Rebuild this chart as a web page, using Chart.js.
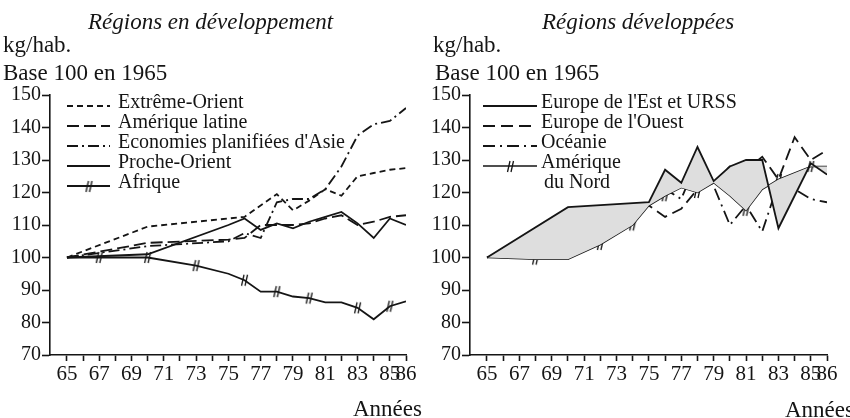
<!DOCTYPE html>
<html>
<head>
<meta charset="utf-8">
<script src="https://cdn.jsdelivr.net/npm/chart.js@4.4.1/dist/chart.umd.min.js"></script>
<style>
  body { margin: 0; background: #fff; }
  #wrap { position: relative; width: 850px; height: 418px; font-family: "Liberation Serif", serif; color: #151515; }
  .box { position: absolute; top: 0; width: 425px; height: 418px; }
  .txt { position: absolute; white-space: nowrap; line-height: 1; }
  .title { font-style: italic; font-size: 23px; }
  .head { font-size: 23px; }
</style>
</head>
<body>
<div id="wrap">
  <div class="box" style="left:0"><canvas id="dev" width="425" height="418"></canvas></div>
  <div class="box" style="left:425px"><canvas id="devd" width="425" height="418"></canvas></div>

  <div class="txt title" style="left:88px;top:10px">Régions en développement</div>
  <div class="txt head" style="left:3px;top:33px">kg/hab.</div>
  <div class="txt head" style="left:3px;top:61px">Base 100 en 1965</div>
  <div class="txt head" style="left:353px;top:397px">Années</div>

  <div class="txt title" style="left:542px;top:10px">Régions développées</div>
  <div class="txt head" style="left:433px;top:33px">kg/hab.</div>
  <div class="txt head" style="left:435px;top:61px">Base 100 en 1965</div>
  <div class="txt head" style="left:785px;top:398px">Années</div>
</div>

<script>
"use strict";

const ink = "#151515";

const years = [65, 66, 67, 68, 69, 70, 71, 72, 73, 74, 75, 76, 77, 78, 79, 80, 81, 82, 83, 84, 85, 86];
const labelledYears = [65, 67, 69, 71, 73, 75, 77, 79, 81, 83, 85, 86];
const yTicks = [70, 80, 90, 100, 110, 120, 130, 140, 150];

// Régions en développement
const extremeOrient = [100, null, null, null, null, 109.5, null, null, null, null, 112, 112.5, null, 119.5, 114.5, 117.5, 121, 119, 125, 126, 127, 127.5];
const ameriqueLatine = [100, null, null, null, null, 104.5, null, null, null, null, 105.5, 106, 110, 110, 110, 110.5, 112, 113, 110, 111, 112.5, 113];
const asiePlanifiee = [100, null, null, null, null, 103.5, null, null, null, null, 105, 107.5, 106, 117, 118, 118, 121, 128, 137.5, 141, 142, 146];
const procheOrient = [100, null, null, null, null, 101, null, null, null, null, 110, 112, 108.5, 110.5, 109, 111, 112.5, 114, 110.5, 106, 112, 110];
const afrique = [100, null, 100, null, null, 100, null, null, 97.5, null, 95, 93, 89.5, 89.5, 88, 87.5, 86.2, 86.2, 84.5, 81, 85, 86.5];
const afriqueMarks = [67, 70, 73, 76, 78, 80, 83, 85];

// Régions développées
const europeEst = [100, null, null, null, null, 115.5, null, null, null, null, 117, 127, 123, 134, 123.5, 128, 130, 130, 109, 119, 129, 125.5];
const europeOuest = [100, null, null, null, null, 107.5, null, null, null, null, 116, 112.5, 115, 121, 123, 128, 127, 131, 124, 137, 130, 133];
const oceanie = [100, null, null, null, null, 106.5, null, null, null, null, 116, 121, 118, 130, 122, 110, 116, 108, 123, 121, 118, 117];
const ameriqueNord = [100, null, null, 99.5, null, 99.5, null, 104, null, 110, 116, 119, 121.5, 120, 123, 119, 114.5, 121, 124, 126, 128, 128];
const ameriqueNordMarks = [68, 72, 74, 76, 78, 81, 83, 85];

// little double-slash tick used on two of the lines
const marker = document.createElement("canvas");
marker.width = 9;
marker.height = 13;
(function () {
  const c = marker.getContext("2d");
  c.strokeStyle = ink;
  c.lineWidth = 1.3;
  c.beginPath();
  c.moveTo(1.5, 12); c.lineTo(4, 1);
  c.moveTo(5, 12); c.lineTo(7.5, 1);
  c.stroke();
})();

function markRadius(marks) {
  return years.map(y => (marks.includes(y) ? 4 : 0));
}

function lineSet(label, values, dash, extra) {
  return Object.assign({
    label: label,
    data: values,
    borderColor: ink,
    borderWidth: 1.8,
    borderDash: dash,
    pointRadius: 0,
    fill: false,
    spanGaps: true,
    tension: 0,
  }, extra || {});
}

const legendPlugin = {
  id: "sketchLegend",
  afterDraw(chart, args, opts) {
    const ctx = chart.ctx;
    ctx.save();
    ctx.font = opts.font;
    ctx.fillStyle = ink;
    ctx.textBaseline = "middle";
    let row = 0;
    opts.items.forEach(item => {
      const ds = chart.data.datasets[item.index];
      const y = opts.y + row * opts.step;
      ctx.strokeStyle = ink;
      ctx.lineWidth = ds.borderWidth;
      ctx.setLineDash(ds.borderDash || []);
      ctx.beginPath();
      ctx.moveTo(opts.x, y + 3);
      ctx.lineTo(opts.x + opts.w, y + 3);
      ctx.stroke();
      ctx.setLineDash([]);
      if (ds.pointStyle === marker) {
        ctx.drawImage(marker, opts.x + opts.w / 2 - 4, y + 3 - 6);
      }
      item.text.forEach((t, k) => {
        ctx.fillText(t, opts.x + opts.w + opts.gap + (k ? 3 : 0), y + k * opts.step);
      });
      row += item.text.length;
    });
    ctx.restore();
  }
};

function makeOptions(pad, legend) {
  return {
    responsive: false,
    animation: false,
    events: [],
    layout: { padding: pad },
    plugins: {
      legend: { display: false },
      tooltip: { enabled: false },
      sketchLegend: legend,
    },
    scales: {
      x: {
        type: "linear",
        min: 63.95,
        max: 86,
        afterBuildTicks: scale => { scale.ticks = years.map(v => ({ value: v })); },
        afterFit: scale => { scale.height = 63; },
        border: { display: true, color: ink, width: 1.6 },
        grid: { drawOnChartArea: false, drawTicks: true, tickLength: 6, tickColor: ink, tickWidth: 1.6 },
        ticks: {
          autoSkip: false,
          maxRotation: 0,
          padding: 1,
          color: ink,
          font: { family: "Liberation Serif", size: 21 },
          callback: v => (labelledYears.includes(v) ? String(v) : ""),
        },
      },
      y: {
        min: 70,
        max: 150,
        afterBuildTicks: scale => { scale.ticks = yTicks.map(v => ({ value: v })); },
        afterFit: scale => { scale.width = pad.yAxis; },
        border: { display: true, color: ink, width: 1.6 },
        grid: { drawOnChartArea: false, drawTicks: true, tickLength: 8, tickColor: ink, tickWidth: 1.6 },
        ticks: {
          padding: 1,
          color: ink,
          font: { family: "Liberation Serif", size: 20 },
        },
      },
    },
  };
}

function renderDeveloping() {
  const opts = makeOptions({ left: 0, right: 19, top: 95, bottom: 0, yAxis: 50 }, {
    x: 67, y: 103, w: 43, gap: 8, step: 20,
    font: '20px "Liberation Serif"',
    items: [
      { index: 0, text: ["Extrême-Orient"] },
      { index: 1, text: ["Amérique latine"] },
      { index: 2, text: ["Economies planifiées d'Asie"] },
      { index: 3, text: ["Proche-Orient"] },
      { index: 4, text: ["Afrique"] },
    ],
  });
  new Chart(document.getElementById("dev"), {
    type: "line",
    data: {
      labels: years,
      datasets: [
        lineSet("Extrême-Orient", extremeOrient, [6, 4]),
        lineSet("Amérique latine", ameriqueLatine, [12, 5]),
        lineSet("Economies planifiées d'Asie", asiePlanifiee, [11, 4, 2, 4]),
        lineSet("Proche-Orient", procheOrient, []),
        lineSet("Afrique", afrique, [], { pointStyle: marker, pointRadius: markRadius(afriqueMarks) }),
      ],
    },
    options: opts,
    plugins: [legendPlugin],
  });
}

function renderDeveloped() {
  const opts = makeOptions({ left: 0, right: 23, top: 95, bottom: 0, yAxis: 45 }, {
    x: 58, y: 103, w: 54, gap: 4, step: 20,
    font: '20px "Liberation Serif"',
    items: [
      { index: 0, text: ["Europe de l'Est et URSS"] },
      { index: 1, text: ["Europe de l'Ouest"] },
      { index: 2, text: ["Océanie"] },
      { index: 3, text: ["Amérique", "du Nord"] },
    ],
  });
  new Chart(document.getElementById("devd"), {
    type: "line",
    data: {
      labels: years,
      datasets: [
        lineSet("Europe de l'Est et URSS", europeEst, [], { fill: { target: 3, above: "#dedede", below: "#dedede" } }),
        lineSet("Europe de l'Ouest", europeOuest, [12, 6]),
        lineSet("Océanie", oceanie, [12, 5, 2, 5]),
        lineSet("Amérique du Nord", ameriqueNord, [], { borderWidth: 1.5, pointStyle: marker, pointRadius: markRadius(ameriqueNordMarks) }),
      ],
    },
    options: opts,
    plugins: [legendPlugin],
  });
}

renderDeveloping();
renderDeveloped();
</script>
</body>
</html>
